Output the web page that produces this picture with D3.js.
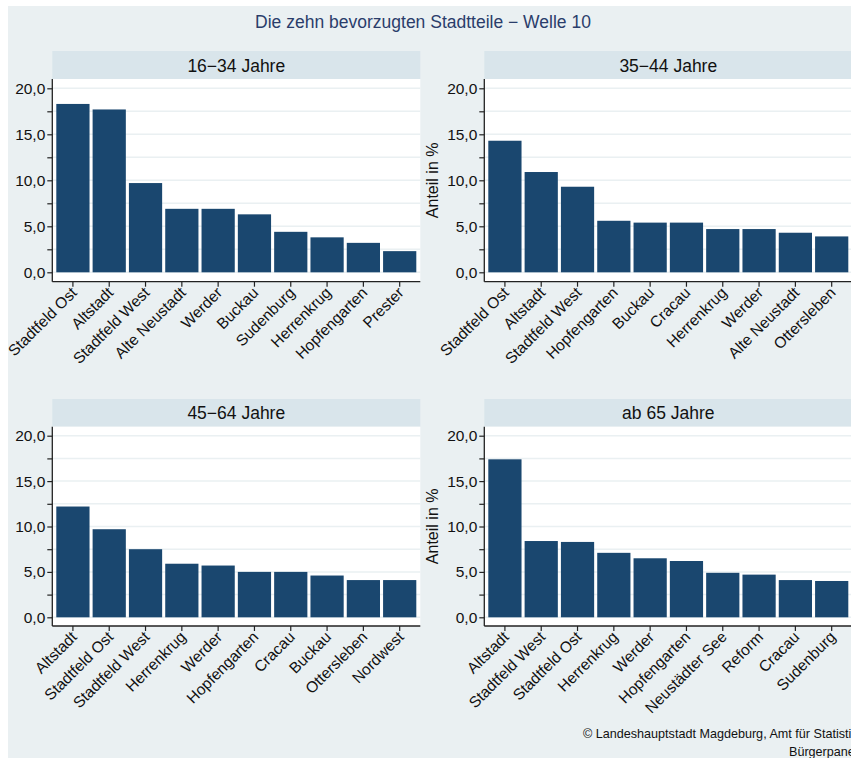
<!DOCTYPE html>
<html>
<head>
<meta charset="utf-8">
<script src="https://cdn.jsdelivr.net/npm/d3@7"></script>
<style>
  html, body { margin: 0; padding: 0; background: #ffffff; }
  svg { display: block; font-family: "Liberation Sans", Arial, sans-serif; }
</style>
</head>
<body>
<div id="chart"></div>
<script>
// ---------- data ----------
const chartTitle = "Die zehn bevorzugten Stadtteile \u2212 Welle 10";
const panelTitles = ["16\u221234 Jahre", "35\u221244 Jahre", "45\u221264 Jahre", "ab 65 Jahre"];

const cats1634 = ["Stadtfeld Ost", "Altstadt", "Stadtfeld West", "Alte Neustadt", "Werder", "Buckau", "Sudenburg", "Herrenkrug", "Hopfengarten", "Prester"];
const vals1634 = [18.3, 17.7, 9.7, 6.9, 6.9, 6.3, 4.4, 3.8, 3.2, 2.3];

const cats3544 = ["Stadtfeld Ost", "Altstadt", "Stadtfeld West", "Hopfengarten", "Buckau", "Cracau", "Herrenkrug", "Werder", "Alte Neustadt", "Ottersleben"];
const vals3544 = [14.3, 10.9, 9.3, 5.6, 5.4, 5.4, 4.7, 4.7, 4.3, 3.9];

const cats4564 = ["Altstadt", "Stadtfeld Ost", "Stadtfeld West", "Herrenkrug", "Werder", "Hopfengarten", "Cracau", "Buckau", "Ottersleben", "Nordwest"];
const vals4564 = [12.2, 9.7, 7.5, 5.9, 5.7, 5.0, 5.0, 4.6, 4.1, 4.1];

const cats65 = ["Altstadt", "Stadtfeld West", "Stadtfeld Ost", "Herrenkrug", "Werder", "Hopfengarten", "Neust\u00e4dter See", "Reform", "Cracau", "Sudenburg"];
const vals65 = [17.4, 8.4, 8.3, 7.1, 6.5, 6.2, 4.9, 4.7, 4.1, 4.0];

const yMajorTicks = [0, 5, 10, 15, 20];
const yMinorTicks = [2.5, 7.5, 12.5, 17.5];
const yGridValues = [0, 2.5, 5, 7.5, 10, 12.5, 15, 17.5, 20];
const yAxisTitle = "Anteil in %";
const creditLine1 = "\u00a9 Landeshauptstadt Magdeburg, Amt f\u00fcr Statistik";
const creditLine2 = "B\u00fcrgerpanel";

// ---------- layout ----------
const W = 851, H = 758;
const C = {
  bg: "#eaf0f2",
  strip: "#d9e5eb",
  plot: "#ffffff",
  grid: "#eaf0f2",
  bar: "#1a476f",
  axis: "#222222",
  title: "#2a3d6b",
  text: "#111111"
};

const panels = [
  { title: panelTitles[0], cats: cats1634, vals: vals1634, x0: 52.3, headTop: 51, headBot: 79, axisY: 281.7, y0: 272.3, y20: 88.3, yTitle: false },
  { title: panelTitles[1], cats: cats3544, vals: vals3544, x0: 484.3, headTop: 51, headBot: 79, axisY: 281.7, y0: 272.3, y20: 88.3, yTitle: true },
  { title: panelTitles[2], cats: cats4564, vals: vals4564, x0: 52.3, headTop: 399, headBot: 426.7, axisY: 626, y0: 617.3, y20: 435.7, yTitle: false },
  { title: panelTitles[3], cats: cats65, vals: vals65, x0: 484.3, headTop: 399, headBot: 426.7, axisY: 626, y0: 617.3, y20: 435.7, yTitle: true }
];
const PW = 368;

const svg = d3.select("#chart").append("svg")
  .attr("width", W).attr("height", H);

svg.append("rect").attr("x", 8).attr("y", 6).attr("width", W - 8).attr("height", H - 6).attr("fill", C.bg);

svg.append("text")
  .attr("x", 423).attr("y", 27.5)
  .attr("text-anchor", "middle")
  .attr("font-size", 17.5)
  .attr("fill", C.title)
  .text(chartTitle);

const fmt = v => d3.format(".1f")(v).replace(".", ",");

panels.forEach(p => {
  const g = svg.append("g");
  // strip
  g.append("rect").attr("x", p.x0).attr("y", p.headTop).attr("width", PW).attr("height", p.headBot - p.headTop).attr("fill", C.strip);
  g.append("text")
    .attr("x", p.x0 + PW / 2).attr("y", p.headBot - 7.5)
    .attr("text-anchor", "middle").attr("font-size", 17.5).attr("fill", C.text)
    .text(p.title);
  // plot area
  g.append("rect").attr("x", p.x0).attr("y", p.headBot).attr("width", PW).attr("height", p.axisY - p.headBot).attr("fill", C.plot);

  const y = d3.scaleLinear().domain([0, 20]).range([p.y0, p.y20]);
  const x = d3.scaleBand().domain(p.cats).range([p.x0 + 4, p.x0 + PW - 4]).paddingInner(0.085).paddingOuter(0);

  // grid
  g.append("g").selectAll("line").data(yGridValues).join("line")
    .attr("x1", p.x0).attr("x2", p.x0 + PW)
    .attr("y1", d => y(d)).attr("y2", d => y(d))
    .attr("stroke", C.grid).attr("stroke-width", 1.5);

  // bars
  g.append("g").selectAll("rect").data(p.vals).join("rect")
    .attr("x", (d, i) => x(p.cats[i]))
    .attr("width", x.bandwidth())
    .attr("y", d => y(d))
    .attr("height", d => y(0) - y(d))
    .attr("fill", C.bar);

  // y axis
  const yAxis = d3.axisLeft(y).tickValues(yMajorTicks).tickSize(5).tickPadding(2).tickFormat(fmt);
  const ya = g.append("g").attr("transform", `translate(${p.x0},0)`).call(yAxis);
  ya.select(".domain").remove();
  ya.selectAll(".tick line").attr("stroke", C.axis).attr("stroke-width", 1.2);
  ya.selectAll(".tick text").attr("font-size", 15.5).attr("fill", C.text).attr("font-family", "Liberation Sans, Arial, sans-serif");
  const yMinor = d3.axisLeft(y).tickValues(yMinorTicks).tickSize(5).tickFormat("");
  const ym = g.append("g").attr("transform", `translate(${p.x0},0)`).call(yMinor);
  ym.select(".domain").remove();
  ym.selectAll(".tick line").attr("stroke", C.axis).attr("stroke-width", 1.2);
  g.append("line").attr("x1", p.x0).attr("x2", p.x0).attr("y1", p.headBot).attr("y2", p.axisY)
    .attr("stroke", C.axis).attr("stroke-width", 1.3);

  // x axis
  const xAxis = d3.axisBottom(x).tickSize(5).tickSizeOuter(0).tickFormat("");
  const xa = g.append("g").attr("transform", `translate(0,${p.axisY})`).call(xAxis);
  xa.select(".domain").remove();
  xa.selectAll(".tick line").attr("stroke", C.axis).attr("stroke-width", 1.2);
  g.append("line").attr("x1", p.x0).attr("x2", p.x0 + PW).attr("y1", p.axisY).attr("y2", p.axisY)
    .attr("stroke", C.axis).attr("stroke-width", 1.3);

  g.append("g").selectAll("text").data(p.cats).join("text")
    .attr("transform", d => `translate(${x(d) + x.bandwidth() / 2 + 5},${p.axisY + 12}) rotate(-45)`)
    .attr("text-anchor", "end")
    .attr("font-size", 15.5)
    .attr("fill", C.text)
    .text(d => d);

  if (p.yTitle) {
    const cy = (p.headBot + p.axisY) / 2;
    g.append("text")
      .attr("transform", `translate(${p.x0 - 46},${cy}) rotate(-90)`)
      .attr("text-anchor", "middle")
      .attr("font-size", 16)
      .attr("fill", C.text)
      .text(yAxisTitle);
  }
});

svg.append("text").attr("x", 583).attr("y", 738).attr("font-size", 12.6).attr("fill", C.text).text(creditLine1);
svg.append("text").attr("x", 789).attr("y", 755.5).attr("font-size", 12.6).attr("fill", C.text).text(creditLine2);
</script>
</body>
</html>
